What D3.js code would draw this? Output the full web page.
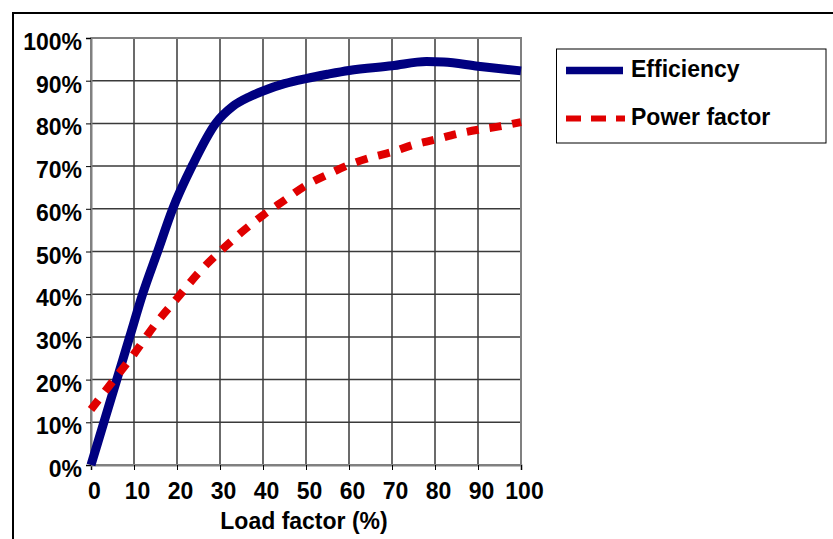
<!DOCTYPE html>
<html><head><meta charset="utf-8">
<script src="https://cdn.jsdelivr.net/npm/d3@7"></script>
<style>html,body{margin:0;padding:0;background:#fff;} text{font-family:"Liberation Sans",Arial,sans-serif;font-weight:bold;fill:#000;}</style>
</head><body>
<script>
const loadTicks = [0,10,20,30,40,50,60,70,80,90,100];
const pctTicks = [0,0.1,0.2,0.3,0.4,0.5,0.6,0.7,0.8,0.9,1.0];
const seriesNames = ["Efficiency","Power factor"];
const effLoad = [0,3,6,9,12,15.5,19,23.5,29,33,37,40,45,50,55,60,70,78,82,90,100];
const effVal  = [0,0.10,0.20,0.30,0.40,0.50,0.60,0.70,0.80,0.84,0.863,0.876,0.893,0.905,0.915,0.924,0.935,0.945,0.944,0.934,0.923];
const pfLoad = [0,5,10,15,20,25,30,35,40,45,50,55,60,65,70,75,80,85,90,95,100];
const pfVal  = [0.13,0.195,0.26,0.33,0.39,0.45,0.50,0.545,0.585,0.62,0.655,0.68,0.703,0.72,0.733,0.75,0.762,0.775,0.785,0.793,0.803];

const W=833,H=539, FS=23;
const svg=d3.select("body").append("svg").attr("width",W).attr("height",H);
// outer frame
svg.append("rect").attr("x",13).attr("y",13).attr("width",W+20).attr("height",H+20)
  .attr("fill","none").attr("stroke","#000").attr("stroke-width",2);

const x=d3.scaleLinear().domain([0,100]).range([91,521]);
const y=d3.scaleLinear().domain([0,1]).range([465,38]);

// gridlines
const g=svg.append("g");
g.selectAll(".vg").data(loadTicks.slice(1,-1)).enter().append("line")
  .attr("x1",d=>x(d)).attr("x2",d=>x(d)).attr("y1",y(1)).attr("y2",y(0))
  .attr("stroke","#3a3a3a").attr("stroke-width",1.5);
g.selectAll(".hg").data(pctTicks.slice(1,-1)).enter().append("line")
  .attr("x1",x(0)).attr("x2",x(100)).attr("y1",d=>y(d)).attr("y2",d=>y(d))
  .attr("stroke","#3a3a3a").attr("stroke-width",1.5);
// plot border
svg.append("rect").attr("x",x(0)).attr("y",y(1)).attr("width",x(100)-x(0)).attr("height",y(0)-y(1))
  .attr("fill","none").attr("stroke","#808080").attr("stroke-width",2);

// axes
const xAxis=d3.axisBottom(x).tickValues(loadTicks).tickSize(5).tickPadding(13).tickFormat(d3.format("d"));
const xg=svg.append("g").attr("transform",`translate(0,${y(0)})`).call(xAxis);
xg.select(".domain").attr("stroke","#808080").attr("stroke-width",2);
xg.selectAll(".tick line").attr("stroke","#000");
xg.selectAll(".tick text").attr("font-size",FS).attr("dx",3).style("font-family","Liberation Sans, Arial, sans-serif").style("font-weight","bold");

const yAxis=d3.axisLeft(y).tickValues(pctTicks).tickSize(5).tickPadding(4).tickFormat(d3.format(".0%"));
const yg=svg.append("g").attr("transform",`translate(${x(0)},0)`).call(yAxis);
yg.select(".domain").attr("stroke","#808080").attr("stroke-width",2);
yg.selectAll(".tick line").attr("stroke","#000");
yg.selectAll(".tick text").attr("font-size",FS).attr("dy","0.5em").style("font-family","Liberation Sans, Arial, sans-serif").style("font-weight","bold");

svg.append("text").attr("x",304).attr("y",529).attr("text-anchor","middle").attr("font-size",FS).text("Load factor (%)");

// lines
const line=d3.line().x(d=>x(d[0])).y(d=>y(d[1])).curve(d3.curveMonotoneX);
const eff=effLoad.map((l,i)=>[l,effVal[i]]);
const pf=pfLoad.map((l,i)=>[l,pfVal[i]]);
svg.append("path").datum(eff).attr("d",line).attr("fill","none").attr("stroke","#000080").attr("stroke-width",9);
svg.append("path").datum(pf).attr("d",line).attr("fill","none").attr("stroke","#e00000").attr("stroke-width",8).attr("stroke-dasharray","12,11");

// legend
svg.append("rect").attr("x",556.5).attr("y",49).attr("width",269.5).attr("height",94).attr("fill","#fff").attr("stroke","#000").attr("stroke-width",1);
const lg=svg.append("g");
lg.append("line").attr("x1",566).attr("x2",623).attr("y1",70.5).attr("y2",70.5).attr("stroke","#000080").attr("stroke-width",7.5);
lg.append("line").attr("x1",566).attr("x2",625).attr("y1",118.5).attr("y2",118.5).attr("stroke","#e00000").attr("stroke-width",6).attr("stroke-dasharray","15,10");
lg.append("text").attr("x",631).attr("y",77).attr("font-size",FS).text(seriesNames[0]);
lg.append("text").attr("x",631).attr("y",125).attr("font-size",FS).text(seriesNames[1]);
</script>
</body></html>
